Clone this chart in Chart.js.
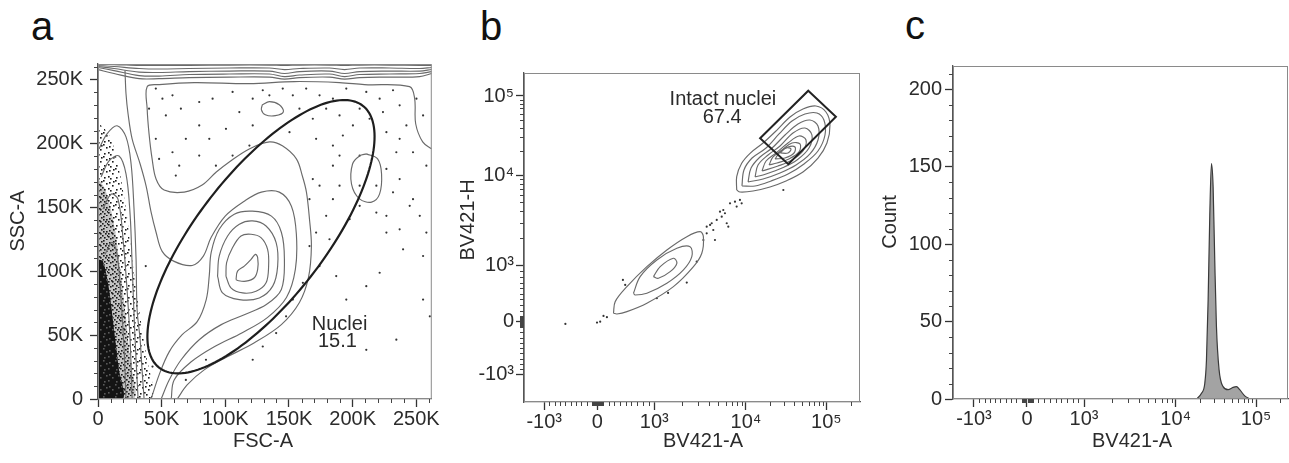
<!DOCTYPE html>
<html>
<head>
<meta charset="utf-8">
<script src="https://cdn.jsdelivr.net/npm/chart.js@4.4.1/dist/chart.umd.min.js"></script>
<style>
  body { margin: 0; background: #fff; width: 1289px; height: 463px; overflow: hidden; position: relative;
         font-family: "Liberation Sans", Arial, sans-serif; }
  .panel { position: absolute; top: 0; }
  .letter { position: absolute; font-size: 40px; line-height: 40px; color: #111; }
</style>
</head>
<body>
<div class="letter" style="left:31px;top:6px">a</div>
<div class="letter" style="left:480px;top:6px">b</div>
<div class="letter" style="left:905px;top:5px">c</div>
<canvas id="chart-a" class="panel" style="left:0" width="440" height="463"></canvas>
<canvas id="chart-b" class="panel" style="left:440px" width="430" height="463"></canvas>
<canvas id="chart-c" class="panel" style="left:870px" width="419" height="463"></canvas>
<script>
// ---------- panel a: FSC-A vs SSC-A, values in thousands ----------
const aTicks = [0, 50, 100, 150, 200, 250];
const aTickLabels = ['0', '50K', '100K', '150K', '200K', '250K'];
const aMinorTicks = [10, 20, 30, 40, 60, 70, 80, 90, 110, 120, 130, 140, 160, 170, 180, 190, 210, 220, 230, 240, 260];

// saturated events piled up at the top of the SSC range
const topBandX = [0, 12.6, 32.3, 48.0, 71.6, 103.1, 134.6, 146.4, 158.2, 181.8, 193.6, 205.4, 229.0, 252.6, 262];
const topBandY = [
    [261.7, 261.7, 261.0, 261.0, 261.0, 261.3, 261.3, 261.0, 261.3, 261.3, 261.0, 261.3, 261.3, 261.0, 261.0],
    [261.0, 260.2, 258.6, 258.2, 258.6, 259.0, 259.0, 257.8, 258.6, 259.0, 257.8, 259.0, 259.0, 258.6, 259.4],
    [260.2, 258.6, 255.8, 255.5, 256.2, 256.6, 256.6, 254.7, 256.2, 256.6, 254.7, 256.2, 256.6, 256.6, 257.8],
    [259.4, 257.0, 253.1, 252.7, 253.9, 254.3, 254.3, 252.3, 253.5, 254.3, 252.3, 253.9, 254.3, 254.7, 256.2],
    [257.8, 254.7, 250.7, 250.7, 251.5, 251.9, 251.9, 250.3, 251.5, 251.9, 250.3, 251.5, 251.9, 252.3, 254.7]
];

const aContour1 = [[262,195.7],[255.0,201.2],[249.5,215.4],[248.7,235.0],[244.7,244.4],[209.3,246.0],[189.7,247.6],[154.3,248.4],[118.8,246.8],[75.6,247.6],[48.0,246.0],[38.6,244.4],[38.6,227.2],[40.1,207.5],[42.5,187.9],[45.6,172.1],[51.9,163.5],[67.7,161.9],[81.8,167.4],[92.9,177.6],[103.1,185.5],[118.8,195.7],[134.6,201.2],[144.8,198.1],[155.8,187.9],[160.5,174.5],[163.7,161.9],[166.1,140.7],[167.6,119.5],[165.3,95.1],[158.2,75.5],[144.0,58.2],[122.8,44.0],[101.5,33.0],[83.4,22.8],[70.0,11.0],[62.2,0]];
const aContour2 = [[21.2,257.0],[22.0,238.9],[23.6,223.2],[26.8,203.6],[33.1,183.9],[37.8,166.6],[41.7,146.2],[45.6,130.5],[50.4,115.5],[59.8,107.7],[74.0,104.5],[82.6,111.6],[88.9,126.5],[99.9,143.1],[114.9,154.8],[128.3,161.9],[142.4,161.9],[151.9,150.9],[155.8,128.9],[155.0,101.4],[148.0,79.4],[133.0,63.7],[113.3,51.9],[91.3,40.9],[73.2,29.1],[59.8,14.9],[57.5,0]];
const aContour3 = [[41.7,0],[48.0,18.9],[55.9,36.9],[66.1,50.3],[77.9,60.5],[85.0,77.8],[87.4,96.7],[88.9,114.8],[95.2,132.8],[107.0,144.6],[121.2,147.0],[136.2,143.1],[144.0,130.5],[146.4,109.3],[144.0,85.7],[132.2,73.9],[114.9,66.0],[96.8,58.2],[79.5,46.4],[65.3,30.7],[55.9,14.9],[49.6,0]];
const aRing4 = [[93.9,96.1],[95.2,111.8],[101.8,127.6],[111.0,136.8],[121.4,139.4],[132.0,135.4],[139.9,122.4],[141.1,104.0],[137.2,88.3],[126.7,79.1],[111.0,77.8],[97.8,83.1]];
const aRing5 = [[100.5,96.1],[101.0,106.7],[105.7,118.5],[112.3,127.6],[120.2,128.9],[128.0,126.3],[133.2,117.1],[134.0,104.0],[132.0,90.9],[124.1,84.3],[113.6,83.0],[104.4,87.0]];
const aRing6 = [[108.4,93.5],[109.6,100.1],[114.9,104.0],[120.2,109.3],[123.6,113.2],[125.4,110.6],[125.4,101.4],[122.8,94.9],[116.2,92.2],[109.6,92.7]];
const aIslandRight = [[210.9,191.8],[219.6,187.9],[222.7,176.1],[221.1,160.3],[214.9,154.1],[205.4,156.6],[199.1,168.2],[199.9,183.9],[205.4,190.2]];
const aIslandTop = [[129.1,230.3],[134.6,232.7],[142.4,230.3],[145.6,224.8],[139.3,221.7],[131.4,222.4],[128.3,226.4]];
// debris population near FSC = 0
const aDebris1 = [[0.8,195.7],[7.1,207.5],[15.0,213.8],[22.0,205.1],[26.0,183.9],[28.3,148.6],[29.9,109.3],[30.7,70.0],[33.1,46.4],[34.6,22.8],[36.2,0]];
const aDebris2 = [[2.4,173.7],[8.7,186.3],[16.5,190.2],[22.0,176.1],[25.2,144.6],[26.8,105.3],[28.3,66.0],[29.9,30.7],[31.5,0]];
const aDebris3 = [[3.9,148.6],[10.2,160.3],[15.7,156.4],[19.7,125.0],[22.8,85.7],[25.2,46.4],[26.8,0]];
const aDebris4 = [[5.5,113.2],[11.0,122.6],[15.0,113.2],[18.1,77.8],[20.5,38.5],[22.0,0]];
const aDebrisOuter = [[0,215.4],[3.9,213.0],[10.2,203.6],[16.5,180.0],[22.0,148.6],[26.8,109.3],[32.3,70.0],[37.8,34.6],[41.7,0],[0,0]];
const aDebrisMid = [[0,172.1],[5.5,164.3],[11.8,140.7],[16.5,109.3],[21.2,70.0],[25.2,30.7],[28.3,0],[0,0]];
const aDebrisCore = [[0,109.3],[3.9,107.7],[8.7,85.7],[12.6,54.2],[16.5,22.8],[19.7,0],[0,0]];

const aDotsX = [45.4,50.6,58.5,65.1,53.3,79.5,90.0,105.7,111.0,121.5,129.4,134.6,100.5,87.4,69.0,58.5,63.8,79.5,92.6,105.7,118.9,121.5,145.1,153.0,163.5,174.0,184.5,195.0,210.7,221.2,231.7,236.9,223.8,213.3,205.5,200.2,189.7,179.2,168.7,158.2,150.4,171.3,184.5,192.3,226.5,236.9,234.3,226.5,236.9,231.7,244.8,226.5,236.9,226.5,239.6,255.3,221.2,210.7,234.3,195.0,189.7,184.5,179.2,171.3,166.1,174.0,187.1,205.5,205.5,197.6,218.6,174.0,184.5,168.7,166.1,181.8,160.9,153.0,147.7,139.9,129.4,121.5,84.8,69.0,210.7,247.4,252.7,257.9,247.4,242.2,255.3,250.1,257.9,255.3,260.6,218.6,205.5,189.7,79.5,45.4,48.0,61.1,40.1,37.5,42.8];
const aDotsY = [242.9,235.0,237.6,227.2,221.9,232.4,235.0,240.3,224.5,235.0,241.6,237.6,211.4,203.6,203.6,193.1,182.6,190.5,182.6,190.5,198.3,214.1,242.9,237.6,242.9,237.6,235.0,242.9,240.3,235.0,241.6,229.8,224.5,219.3,227.2,214.1,221.9,227.2,219.3,227.2,208.8,203.6,198.3,206.2,208.8,203.6,193.1,180.0,172.1,161.7,151.2,143.3,132.8,130.2,117.1,111.9,98.8,88.3,46.4,77.8,166.9,156.4,143.3,130.2,119.7,104.0,96.2,166.9,151.2,140.7,145.9,166.9,182.6,172.1,156.4,125.0,90.9,77.8,64.7,51.6,41.1,30.7,30.7,14.9,38.5,156.4,143.3,182.6,193.1,214.1,221.9,235.0,130.2,77.8,64.7,166.9,190.5,190.5,214.1,203.6,187.9,174.8,227.2,104.0,25.4];

// ellipse gate: centre x, centre y, semi-major, semi-minor, tilt in degrees
const nucleiGate = [128, 127, 130, 50, 52];

// ---------- panels b and c: biexponential BV421 axes ----------
const bioTicks = [-1000, 0, 1000, 10000, 100000];
const bioTickLabels = ['-10\u00b3', '0', '10\u00b3', '10\u2074', '10\u2075'];
const bioMinorTicks = [-900, -800, -700, -600, -500, -400, -300, -200, -100, -90, -80, -70, -60, -50, -40, -30, -20, -10,
    10, 20, 30, 40, 50, 60, 70, 80, 90, 100, 200, 300, 400, 500, 600, 700, 800, 900,
    2000, 3000, 4000, 5000, 6000, 7000, 8000, 9000, 20000, 30000, 40000, 50000, 60000, 70000, 80000, 90000, 200000];

const bUpper1 = [[7925,6870],[7925,9660],[8980,14160],[11250,18920],[16300,25500],[24300,37200],[35300,54300],[51200,68500],[74300,74800],[98900,62800],[110900,43100],[101700,25500],[78700,16500],[51200,11000],[31500,8650],[19900,7430],[12250,6700],[8610,6530]];
const bUpper2 = [[9040,7620],[9510,11670],[11910,16520],[17780,22080],[25800,33190],[37390,48420],[54200,59290],[76380,61090],[93300,49770],[96160,32210],[78700,20230],[52720,13900],[33340,10380],[20520,8650],[12980,7620]];
const bUpper3 = [[10620,8430],[11570,12360],[14960,17020],[21130,22080],[30620,32210],[44360,44360],[62520,49770],[78700,41880],[78700,27860],[62520,18580],[41980,13490],[26550,10690],[16320,9100]];
const bUpper4 = [[12980,9570],[14130,13490],[18840,18030],[26550,23390],[38460,34120],[54200,39450],[66220,32210],[60810,22080],[43150,15600],[28120,12360],[17780,10380]];
const bUpper5 = [[15850,11320],[17780,15140],[23660,19100],[33340,25530],[45710,31330],[55850,27860],[51170,20230],[37390,15600],[25060,13090]];
const bUpper6 = [[19380,13490],[21730,17020],[28120,20840],[37390,25530],[46990,24830],[45710,19680],[34280,16070],[24360,14290]];
const bUpper7 = [[23010,16070],[26550,19680],[33340,22750],[40740,22750],[39620,19100],[30620,16520]];
const bUpper8 = [[26550,19100],[31480,22080],[36310,21480],[33340,19100]];
const bLower1 = [[285,155],[315,361],[520,627],[870,982],[1371,1493],[2265,2094],[3160,2377],[3430,2094],[3297,1371],[2675,982],[1617,627],[870,332],[520,183],[345,142]];
const bLower2 = [[635,510],[752,805],[1067,1156],[1762,1556],[2457,1622],[2566,1256],[2080,924],[1371,687],[870,510],[665,479]];
const bLower3 = [[985,805],[1160,982],[1617,1208],[1762,1062],[1489,893],[1109,776]];
const bDots = [[-600,-38],[-4,-13],[52,5],[110,107],[170,84],[450,746],[490,657],[1065,421],[1413,515],[2260,699],[2900,1107],[3430,1923],[3730,2280],[4400,2480],[4230,2945],[4800,3206],[5440,3487],[5900,3800],[5210,3957],[6170,2945],[6420,2698],[4590,1923],[5660,4130],[6700,4898],[7590,5100],[8600,5330],[8980,4898],[29170,6870],[7920,4500],[4060,2820],[3730,2698]];
const intactGate = [[59600,116700],[131500,54800],[33600,13800],[15000,29300]];

const histX = [18100, 20900, 22970, 24100, 25290, 26500, 27800, 29170, 30550, 32070, 34580, 38820, 44770, 51650, 56890, 62520, 72110, 83200];
const histCount = [0, 3.7, 10, 25, 64, 118, 152, 137, 90, 47, 19, 8, 6, 7.5, 8, 6, 2, 0];
const cTicks = [0, 50, 100, 150, 200];
const cTickLabels = ['0', '50', '100', '150', '200'];
const cMinorTicks = [10, 20, 30, 40, 60, 70, 80, 90, 110, 120, 130, 140, 160, 170, 180, 190, 210];

const fontFamily = '"Liberation Sans", Arial, sans-serif';
const ink = '#2b2b2b';
const lineGray = '#6a6a6a';

// biexponential display transform (decades), linear around zero
function biex(v) {
    if (v < 0) return v * 0.00066;
    if (v <= 1000) return v * 0.00071;
    if (v <= 10000) return 0.71 + 1.14 * Math.log10(v / 1000);
    return 1.85 + Math.log10(v / 10000);
}
function biexInv(t) {
    if (t < 0) return t / 0.00066;
    if (t <= 0.71) return t / 0.00071;
    if (t <= 1.85) return 1000 * Math.pow(10, (t - 0.71) / 1.14);
    return 10000 * Math.pow(10, t - 1.85);
}

class BiexScale extends Chart.LinearScale {
    getPixelForValue(v) {
        if (v === null || v === undefined || isNaN(v)) return NaN;
        const t0 = biex(this.min), t1 = biex(this.max);
        return this.getPixelForDecimal((biex(v) - t0) / (t1 - t0));
    }
    getValueForPixel(p) {
        const t0 = biex(this.min), t1 = biex(this.max);
        return biexInv(t0 + this.getDecimalForPixel(p) * (t1 - t0));
    }
}
BiexScale.id = 'biex';
BiexScale.defaults = Chart.LinearScale.defaults;
Chart.register(BiexScale);

// speckled fill so the dense debris cloud reads as dots, not a flat patch
const speckleSpots = [[1,2],[7,0],[4,5],[10,3],[0,8],[8,9],[5,1],[2,10],[11,7],[6,7],[3,4],[9,5],[0,5],[7,3],[4,9],[10,11],[2,7],[6,11],[9,1],[11,9]];
function speckle(count, bg, ink) {
    const tile = document.createElement('canvas');
    tile.width = 12; tile.height = 12;
    const t = tile.getContext('2d');
    t.fillStyle = bg;
    t.fillRect(0, 0, 12, 12);
    t.fillStyle = ink || '#1a1a1a';
    speckleSpots.slice(0, count).forEach(s => t.fillRect(s[0], s[1], 1.6, 1.6));
    return t.createPattern(tile, 'repeat');
}

const toXY = pts => pts.map(p => ({ x: p[0], y: p[1] }));
const closeRing = pts => toXY(pts.concat([pts[0]]));

function contour(pts, closed, color) {
    return {
        type: 'line', data: closed ? closeRing(pts) : toXY(pts),
        borderColor: color || lineGray, borderWidth: 1.15,
        pointRadius: 0, fill: false, tension: 0.35
    };
}
function shade(pts, fillStyle) {
    return {
        type: 'line', data: closeRing(pts), borderWidth: 0, borderColor: 'rgba(0,0,0,0)',
        backgroundColor: fillStyle, fill: 'shape', pointRadius: 0, tension: 0.3
    };
}
function dots(pts) {
    return { type: 'scatter', data: toXY(pts), pointRadius: 1.1, pointBackgroundColor: '#333', pointBorderWidth: 0 };
}

function axis(type, min, max, ticks, labels, pad, size, vertical) {
    return {
        type, min, max,
        afterBuildTicks: s => { s.ticks = ticks.map(v => ({ value: v })); },
        afterFit: s => { if (vertical) s.width = size; else s.height = size; },
        ticks: {
            autoSkip: false, maxRotation: 0, minRotation: 0, padding: pad, color: ink,
            font: { family: fontFamily, size: 20 },
            callback: v => labels[ticks.indexOf(v)]
        },
        grid: { drawOnChartArea: false, drawTicks: true, tickLength: 8, tickColor: '#333', tickWidth: 1.3 },
        border: { display: true, color: '#555', width: 1.3 }
    };
}

// frame, minor ticks and axis titles
function frame(o) {
    return {
        id: 'frame',
        afterDraw(chart) {
            const { ctx, chartArea: ca, scales: { x, y } } = chart;
            ctx.save();
            ctx.strokeStyle = '#8a8a8a';
            ctx.lineWidth = 1;
            ctx.strokeRect(ca.left + 0.5, ca.top + 0.5, ca.right - ca.left - 1, ca.bottom - ca.top - 1);
            ctx.strokeStyle = '#444';
            ctx.beginPath();
            o.xMinor.forEach(v => {
                if (v < x.min || v > x.max) return;
                const px = Math.round(x.getPixelForValue(v)) + 0.5;
                ctx.moveTo(px, ca.bottom); ctx.lineTo(px, ca.bottom + 4);
            });
            o.yMinor.forEach(v => {
                if (v < y.min || v > y.max) return;
                const py = Math.round(y.getPixelForValue(v)) + 0.5;
                ctx.moveTo(ca.left, py); ctx.lineTo(ca.left - 4, py);
            });
            ctx.stroke();
            ctx.fillStyle = ink;
            ctx.font = '20px ' + fontFamily;
            ctx.textAlign = 'center';
            ctx.textBaseline = 'middle';
            ctx.fillText(o.xTitle, o.xTitleAt[0], o.xTitleAt[1]);
            ctx.translate(o.yTitleAt[0], o.yTitleAt[1]);
            ctx.rotate(-Math.PI / 2);
            ctx.fillText(o.yTitle, 0, 0);
            ctx.restore();
        }
    };
}

function gateLabel(chart, lines, at) {
    const { ctx, scales: { x, y } } = chart;
    ctx.fillStyle = ink;
    ctx.font = '20px ' + fontFamily;
    ctx.textAlign = 'center';
    ctx.textBaseline = 'middle';
    lines.forEach((t, i) => ctx.fillText(t, x.getPixelForValue(at[i][0]), y.getPixelForValue(at[i][1])));
}

const ellipsePlugin = {
    id: 'nucleiGate',
    afterDatasetsDraw(chart) {
        const { ctx, scales: { x, y } } = chart;
        const [cx, cy, ra, rb, deg] = nucleiGate;
        const phi = deg * Math.PI / 180;
        ctx.save();
        ctx.strokeStyle = '#1e1e1e';
        ctx.lineWidth = 2.2;
        ctx.beginPath();
        for (let k = 0; k <= 180; k++) {
            const th = k / 180 * 2 * Math.PI;
            const vx = cx + ra * Math.cos(th) * Math.cos(phi) - rb * Math.sin(th) * Math.sin(phi);
            const vy = cy + ra * Math.cos(th) * Math.sin(phi) + rb * Math.sin(th) * Math.cos(phi);
            const px = x.getPixelForValue(vx), py = y.getPixelForValue(vy);
            if (k === 0) ctx.moveTo(px, py); else ctx.lineTo(px, py);
        }
        ctx.stroke();
        gateLabel(chart, ['Nuclei', '15.1'], [[189.7, 58.2], [188, 44.8]]);
        ctx.restore();
    }
};

const boxPlugin = {
    id: 'intactGate',
    afterDatasetsDraw(chart) {
        const { ctx, scales: { x, y } } = chart;
        ctx.save();
        ctx.strokeStyle = '#222';
        ctx.lineWidth = 2;
        ctx.beginPath();
        intactGate.forEach((p, i) => {
            const px = x.getPixelForValue(p[0]), py = y.getPixelForValue(p[1]);
            if (i === 0) ctx.moveTo(px, py); else ctx.lineTo(px, py);
        });
        ctx.closePath();
        ctx.stroke();
        gateLabel(chart, ['Intact nuclei', '67.4'], [[5610, 89100], [5500, 52800]]);
        ctx.restore();
    }
};

const common = {
    responsive: false, animation: false, events: [],
    plugins: { legend: { display: false }, tooltip: { enabled: false } }
};

// ---- chart a ----
const aDatasets = [];
topBandY.forEach(row => aDatasets.push(contour(topBandX.map((x, i) => [x, row[i]]), false)));
[aContour1, aContour2, aContour3].forEach(c => aDatasets.push(contour(c, false)));
[aRing4, aRing5, aRing6, aIslandRight, aIslandTop].forEach(c => aDatasets.push(contour(c, true)));
[aDebris1, aDebris2, aDebris3, aDebris4].forEach(c => aDatasets.push(contour(c, false)));
aDatasets.push(dots(aDotsX.map((x, i) => [x, aDotsY[i]])));
aDatasets.push(shade(aDebrisCore, speckle(6, '#141414', '#5a5a5a')));
aDatasets.push(shade(aDebrisMid, speckle(16, '#c4c4c4')));
aDatasets.push(shade(aDebrisOuter, speckle(8, '#ffffff')));

new Chart(document.getElementById('chart-a'), {
    type: 'scatter',
    data: { datasets: aDatasets },
    options: Object.assign({}, common, {
        layout: { padding: { left: 0, top: 64, right: 7, bottom: 0 } },
        scales: {
            x: axis('linear', 0, 262.144, aTicks, aTickLabels, 0, 64, false),
            y: axis('linear', 0, 262.144, aTicks, aTickLabels, 7, 98, true)
        }
    }),
    plugins: [ellipsePlugin, frame({ xMinor: aMinorTicks, yMinor: aMinorTicks,
        xTitle: 'FSC-A', xTitleAt: [263, 441], yTitle: 'SSC-A', yTitleAt: [18, 221] })]
});

// ---- chart b ----
const bDatasets = [];
[bUpper8, bUpper7, bUpper6, bUpper5, bUpper4, bUpper3, bUpper2, bUpper1, bLower3, bLower2, bLower1]
    .forEach(c => bDatasets.push(contour(c, true)));
bDatasets.push(dots(bDots));

new Chart(document.getElementById('chart-b'), {
    type: 'scatter',
    data: { datasets: bDatasets },
    options: Object.assign({}, common, {
        layout: { padding: { left: 0, top: 73, right: 10, bottom: 0 } },
        scales: {
            x: axis('biex', -1380, 262144, bioTicks, bioTickLabels, 0, 61, false),
            y: axis('biex', -1530, 195000, bioTicks, bioTickLabels, 2, 84, true)
        }
    }),
    plugins: [boxPlugin, frame({ xMinor: bioMinorTicks, yMinor: bioMinorTicks,
        xTitle: 'BV421-A', xTitleAt: [263, 441], yTitle: 'BV421-H', yTitleAt: [28, 220] })]
});

// ---- chart c ----
new Chart(document.getElementById('chart-c'), {
    type: 'scatter',
    data: {
        datasets: [{
            type: 'line',
            data: histX.map((x, i) => ({ x, y: histCount[i] })),
            fill: 'origin', backgroundColor: '#a3a3a3', borderColor: '#3a3a3a', borderWidth: 1.2,
            pointRadius: 0, cubicInterpolationMode: 'monotone'
        }]
    },
    options: Object.assign({}, common, {
        layout: { padding: { left: 0, top: 66, right: 1, bottom: 0 } },
        scales: {
            x: axis('biex', -1394, 249000, bioTicks, bioTickLabels, 0, 64, false),
            y: axis('linear', 0, 215, cTicks, cTickLabels, 3, 83, true)
        }
    }),
    plugins: [frame({ xMinor: bioMinorTicks, yMinor: cMinorTicks,
        xTitle: 'BV421-A', xTitleAt: [262, 441], yTitle: 'Count', yTitleAt: [20, 222] })]
});
</script>
</body>
</html>
